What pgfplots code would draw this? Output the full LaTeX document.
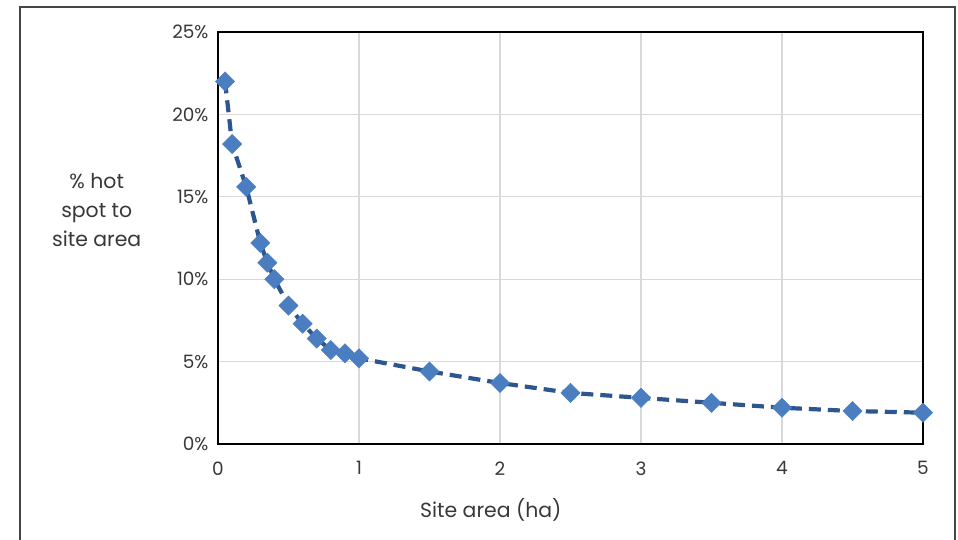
\documentclass[border=0pt]{standalone}
\usepackage{fontspec}
\setmainfont{Poppins}
\usepackage{pgfplots}
\pgfplotsset{compat=1.18}

\definecolor{markblue}{RGB}{74,126,193}
\definecolor{lineblue}{RGB}{46,86,142}
\definecolor{gridgray}{RGB}{217,217,217}
\definecolor{framegray}{RGB}{70,70,70}

\begin{document}
\begin{tikzpicture}[x=1bp,y=1bp]
  \useasboundingbox (0,0) rectangle (958,540);
  \draw[framegray, line width=1.5bp] (20,-20) -- (20,533) -- (955,533) -- (955,-20);
  \begin{axis}[
    at={(218bp,96bp)}, anchor=south west,
    scale only axis,
    width=705bp, height=412bp,
    xmin=0, xmax=5, ymin=0, ymax=25,
    xtick={0,1,...,5}, ytick={0,5,...,25},
    yticklabel={\pgfmathprintnumber{\tick}\%},
    /pgf/number format/assume math mode=true,
    major tick length=0pt,
    grid=major,
    major grid style={gridgray, line width=1.2bp},
    axis line style={black, line width=1.2bp},
    ticklabel style={font=\fontsize{18.5}{22}\selectfont, text=black!78},
    xticklabel style={yshift=-14bp},
    yticklabel style={xshift=-6bp},
    label style={font=\fontsize{20.5}{29}\selectfont, text=black!78},
    xlabel={Site area (ha)},
    xlabel style={at={(axis description cs:0.387,-0.16)}, anchor=center},
    ylabel={\% hot\\spot to\\site area},
    ylabel style={at={(axis description cs:-0.172,0.568)}, anchor=center, rotate=-90, align=center},
    clip=false,
  ]
    \addplot[lineblue, line width=4.2bp, dash pattern=on 12bp off 7bp,
      mark=square*, mark size=6.8bp,
      mark options={solid, rotate=45, fill=markblue, draw=markblue, line width=0.5bp}]
      coordinates {
      (0.05,22.0) (0.1,18.2) (0.2,15.6) (0.3,12.2) (0.35,11.0) (0.4,10.0)
      (0.5,8.4) (0.6,7.3) (0.7,6.4) (0.8,5.7) (0.9,5.5) (1.0,5.2)
      (1.5,4.4) (2.0,3.7) (2.5,3.1) (3.0,2.8) (3.5,2.5) (4.0,2.2)
      (4.5,2.0) (5.0,1.9)
      };
  \end{axis}
\end{tikzpicture}
\end{document}
